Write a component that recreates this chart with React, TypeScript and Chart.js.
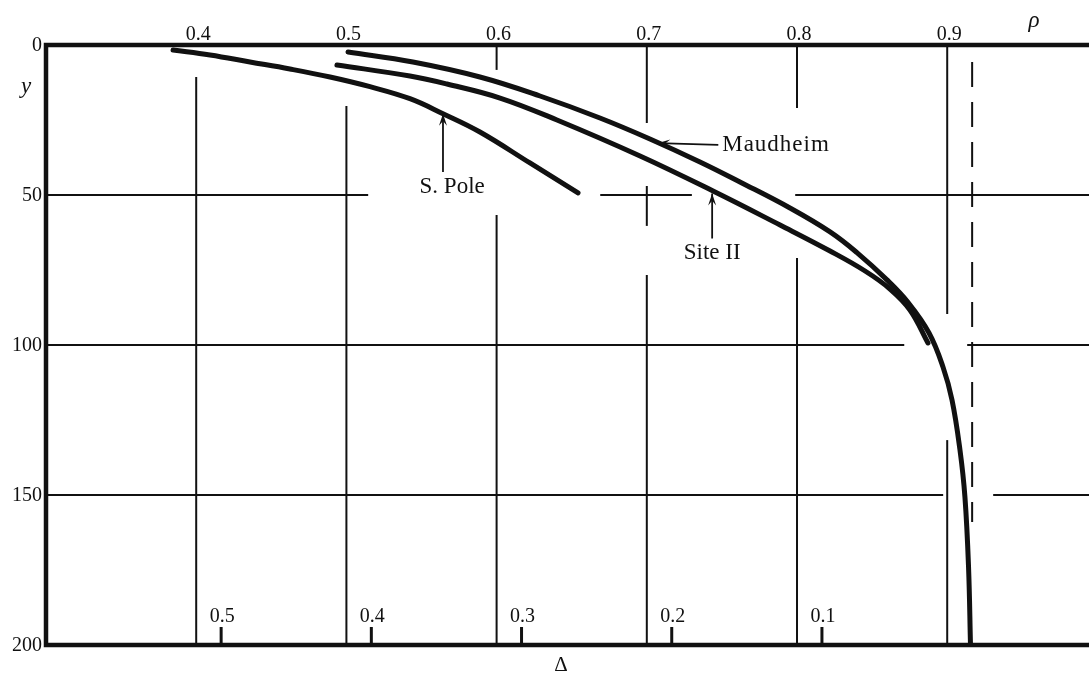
import React, { useEffect, useRef } from "react";
import { Chart, registerables } from "chart.js";

Chart.register(...registerables);

// Axis ranges: density rho (horizontal) and depth y (vertical, downwards)
const RHO_MIN = 0.3;
const RHO_MAX = 0.9944;
const DEPTH_MIN = 0;
const DEPTH_MAX = 200;
const RHO_ICE = 0.9166;

const rhoTicks = [0.4, 0.5, 0.6, 0.7, 0.8, 0.9];
const depthTicks = [0, 50, 100, 150, 200];
const deltaTicks = [0.5, 0.4, 0.3, 0.2, 0.1];

// Density-depth profiles
const maudheimRho = [0.5011, 0.5443, 0.5889, 0.6289, 0.6688, 0.7021, 0.7354, 0.762, 0.7953, 0.822, 0.8399, 0.8599, 0.8739, 0.8879, 0.8972, 0.9032, 0.9085, 0.9118, 0.9142, 0.9155];
const maudheimDepth = [2.33, 5.67, 10.67, 17, 24.33, 31.33, 39, 45.67, 54.33, 62.3, 69.2, 78.3, 85.8, 96, 107.33, 118.33, 135, 150.67, 174, 200];

const siteIIRho = [0.4937, 0.5423, 0.567, 0.6023, 0.6402, 0.6955, 0.7441, 0.7887, 0.822, 0.8453, 0.8619, 0.8752, 0.8872];
const siteIIDepth = [6.67, 10.33, 13, 17.67, 25, 37, 48.67, 60, 68.67, 75.33, 81.33, 88.33, 99.33];

const southPoleRho = [0.3846, 0.4092, 0.4358, 0.4624, 0.4891, 0.5157, 0.5423, 0.5643, 0.5889, 0.6222, 0.6542];
const southPoleDepth = [1.67, 3.33, 5.67, 8, 10.67, 13.9, 17.9, 22.9, 29, 39.33, 49.33];

// Broken grid rules: [rho, depthFrom, depthTo] and [depth, rhoFrom, rhoTo]
const verticalRules: [number, number, number][] = [
  [0.4, 10.7, 200],
  [0.5, 20.3, 200],
  [0.6, 0, 8.3],
  [0.6, 56.7, 200],
  [0.7, 0, 26],
  [0.7, 47, 60.3],
  [0.7, 76.7, 200],
  [0.8, 0, 21],
  [0.8, 71, 200],
  [0.9, 0, 89.7],
  [0.9, 131.7, 200],
];
const horizontalRules: [number, number, number][] = [
  [50, RHO_MIN, 0.5145],
  [50, 0.669, 0.73],
  [50, 0.7988, RHO_MAX],
  [100, RHO_MIN, 0.8714],
  [100, 0.9133, RHO_MAX],
  [150, RHO_MIN, 0.8973],
  [150, 0.9306, RHO_MAX],
];
const iceDensityRule: [number, number, number] = [RHO_ICE, 5.7, 159];

// Curve labels with pointer arrows (data coordinates)
const curveLabels = [
  { text: "Maudheim", rho: 0.7502, depth: 33.3, align: "left", from: [0.7476, 33.3], to: [0.7076, 32.7] },
  { text: "Site II", rho: 0.7435, depth: 69.3, align: "center", from: [0.7435, 64.5], to: [0.7435, 49.5] },
  { text: "S. Pole", rho: 0.5704, depth: 47.3, align: "center", from: [0.5643, 42.3], to: [0.5643, 22.9] },
];

const SERIF = "'Liberation Serif', 'DejaVu Serif', serif";

function toPoints(xs: number[], ys: number[]) {
  return xs.map((x, i) => ({ x, y: ys[i] }));
}

const framePlugin = {
  id: "densityFrame",
  beforeDatasetsDraw(chart: any) {
    const { ctx, scales, chartArea } = chart;
    const sx = scales.x;
    const sy = scales.y;
    ctx.save();
    ctx.strokeStyle = "#111";
    ctx.lineCap = "butt";

    // thin broken grid
    ctx.lineWidth = 2;
    verticalRules.forEach(([r, a, b]) => {
      const x = sx.getPixelForValue(r);
      ctx.beginPath();
      ctx.moveTo(x, sy.getPixelForValue(a));
      ctx.lineTo(x, sy.getPixelForValue(b));
      ctx.stroke();
    });
    horizontalRules.forEach(([d, a, b]) => {
      const y = sy.getPixelForValue(d);
      ctx.beginPath();
      ctx.moveTo(sx.getPixelForValue(a), y);
      ctx.lineTo(sx.getPixelForValue(b), y);
      ctx.stroke();
    });

    // dashed ice density line
    ctx.setLineDash([25, 15]);
    const xi = sx.getPixelForValue(iceDensityRule[0]);
    ctx.beginPath();
    ctx.moveTo(xi, sy.getPixelForValue(iceDensityRule[1]));
    ctx.lineTo(xi, sy.getPixelForValue(iceDensityRule[2]));
    ctx.stroke();
    ctx.setLineDash([]);

    // heavy frame: top, left and bottom
    ctx.lineWidth = 4.5;
    ctx.lineCap = "square";
    const top = sy.getPixelForValue(DEPTH_MIN);
    const bottom = sy.getPixelForValue(DEPTH_MAX);
    const left = sx.getPixelForValue(RHO_MIN);
    ctx.beginPath();
    ctx.moveTo(chartArea.right + 5, top);
    ctx.lineTo(left, top);
    ctx.lineTo(left, bottom);
    ctx.lineTo(chartArea.right + 5, bottom);
    ctx.stroke();

    // delta ticks along the bottom
    ctx.lineWidth = 3;
    ctx.lineCap = "butt";
    ctx.fillStyle = "#111";
    ctx.font = `20px ${SERIF}`;
    ctx.textAlign = "center";
    ctx.textBaseline = "middle";
    deltaTicks.forEach((d) => {
      const x = sx.getPixelForValue(RHO_ICE - d);
      ctx.beginPath();
      ctx.moveTo(x, bottom);
      ctx.lineTo(x, sy.getPixelForValue(194));
      ctx.stroke();
      ctx.fillText(d.toFixed(1), x + 1, sy.getPixelForValue(190.5));
    });
    ctx.restore();
  },
  afterDatasetsDraw(chart: any) {
    const { ctx, scales, chartArea } = chart;
    const sx = scales.x;
    const sy = scales.y;
    ctx.save();
    ctx.fillStyle = "#111";
    ctx.strokeStyle = "#111";

    // rho labels along the top
    ctx.font = `20px ${SERIF}`;
    ctx.textAlign = "center";
    ctx.textBaseline = "alphabetic";
    rhoTicks.forEach((r) => {
      ctx.fillText(r.toFixed(1), sx.getPixelForValue(r) + 2, chartArea.top - 5);
    });

    // depth labels on the left
    ctx.textAlign = "right";
    ctx.textBaseline = "middle";
    depthTicks.forEach((d) => {
      ctx.fillText(String(d), chartArea.left - 4, sy.getPixelForValue(d) + 1);
    });

    // axis symbols
    ctx.font = `italic 23px ${SERIF}`;
    ctx.textAlign = "center";
    ctx.fillText("\u03c1", sx.getPixelForValue(0.9578), chartArea.top - 24);
    ctx.fillText("y", chartArea.left - 20, sy.getPixelForValue(14));
    ctx.font = `21px ${SERIF}`;
    ctx.fillText("\u0394", sx.getPixelForValue(0.6429), chartArea.bottom + 20);

    // curve labels with arrows
    ctx.font = `23px ${SERIF}`;
    curveLabels.forEach((l) => {
      ctx.textAlign = l.align as CanvasTextAlign;
      (ctx as any).letterSpacing = l.align === "left" ? "1px" : "0px";
      ctx.fillText(l.text, sx.getPixelForValue(l.rho), sy.getPixelForValue(l.depth));
      const x0 = sx.getPixelForValue(l.from[0]);
      const y0 = sy.getPixelForValue(l.from[1]);
      const x1 = sx.getPixelForValue(l.to[0]);
      const y1 = sy.getPixelForValue(l.to[1]);
      ctx.lineWidth = 1.8;
      ctx.beginPath();
      ctx.moveTo(x0, y0);
      ctx.lineTo(x1, y1);
      ctx.stroke();
      const ang = Math.atan2(y1 - y0, x1 - x0);
      const len = 12;
      const half = 4;
      const bx = x1 - Math.cos(ang) * len;
      const by = y1 - Math.sin(ang) * len;
      ctx.beginPath();
      ctx.moveTo(x1, y1);
      ctx.lineTo(bx - Math.sin(ang) * half, by + Math.cos(ang) * half);
      ctx.lineTo(x1 - Math.cos(ang) * len * 0.6, y1 - Math.sin(ang) * len * 0.6);
      ctx.lineTo(bx + Math.sin(ang) * half, by - Math.cos(ang) * half);
      ctx.closePath();
      ctx.fill();
    });
    ctx.restore();
  },
};

export default function App() {
  const canvasRef = useRef<HTMLCanvasElement | null>(null);

  useEffect(() => {
    const canvas = canvasRef.current;
    if (!canvas) return;
    const curveStyle = {
      borderColor: "#111",
      borderWidth: 5,
      pointRadius: 0,
      tension: 0.4,
      borderCapStyle: "round" as const,
      borderJoinStyle: "round" as const,
      fill: false,
    };
    const chart = new Chart(canvas, {
      type: "line",
      data: {
        datasets: [
          { label: "Maudheim", data: toPoints(maudheimRho, maudheimDepth), ...curveStyle },
          { label: "Site II", data: toPoints(siteIIRho, siteIIDepth), ...curveStyle },
          { label: "S. Pole", data: toPoints(southPoleRho, southPoleDepth), ...curveStyle },
        ],
      },
      options: {
        responsive: false,
        animation: false,
        devicePixelRatio: 1,
        layout: { padding: { left: 46, top: 45, right: 0, bottom: 33 } },
        plugins: { legend: { display: false }, tooltip: { enabled: false } },
        scales: {
          x: { type: "linear", min: RHO_MIN, max: RHO_MAX, display: false },
          y: { type: "linear", min: DEPTH_MIN, max: DEPTH_MAX, reverse: true, display: false },
        },
      },
      plugins: [framePlugin],
    });
    return () => chart.destroy();
  }, []);

  return (
    <div style={{ position: "fixed", left: 0, top: 0, width: 1089, height: 678, background: "#fff" }}>
      <canvas ref={canvasRef} width={1089} height={678} style={{ display: "block" }} />
    </div>
  );
}
